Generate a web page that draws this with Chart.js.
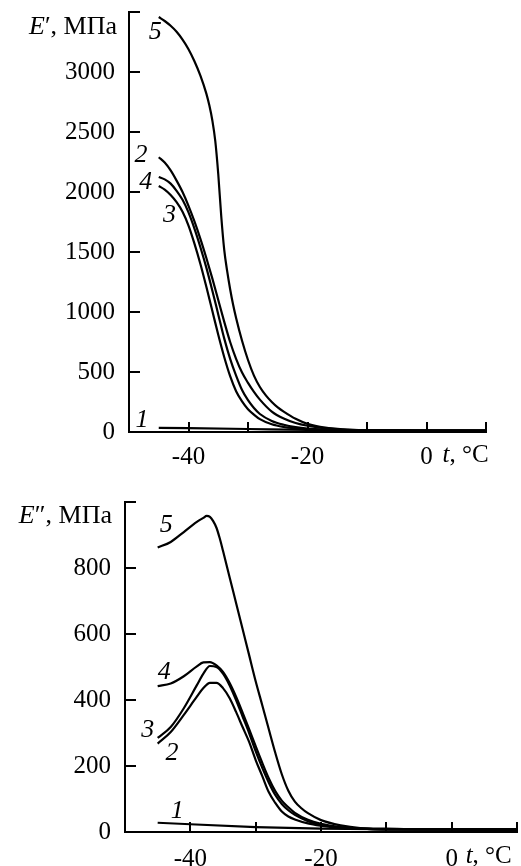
<!DOCTYPE html>
<html>
<head>
<meta charset="utf-8">
<script src="https://cdn.jsdelivr.net/npm/chart.js@4/dist/chart.umd.min.js"></script>
<style>
html,body{margin:0;padding:0;background:#fff;}
#wrap{position:relative;width:521px;height:866px;overflow:hidden;}
canvas{position:absolute;left:0;}
#c1{top:0;}
#c2{top:470px;}
</style>
</head>
<body>
<div id="wrap">
<canvas id="c1" width="521" height="470"></canvas>
<canvas id="c2" width="521" height="396"></canvas>
</div>
<script>
// ---------- DATA ----------
// Top chart: storage modulus E', MPa
const tempsTop5 = [-45,-44,-43,-42,-41,-40,-39,-38,-37,-36.5,-36,-35.5,-35,-34.5,-34,-33.5,-33,-32.5,-32,-31,-30,-29,-28,-27,-26,-25,-24,-22,-20,-17,-14,-10,-5,0,5,10];
const eStor5 = [3458,3425,3385,3335,3270,3190,3090,2970,2820,2722,2598,2425,2150,1800,1520,1340,1190,1060,950,760,600,470,375,305,250,205,170,110,68,36,22,15,13,12,12,12];
const tempsTop = [-45,-44,-43,-42,-41,-40,-39,-38,-37,-36,-35,-34,-33,-32,-31,-30,-29,-28,-26,-24,-22,-20,-17,-14,-10,-5,0,5,10];
const eStor2 = [2290,2245,2180,2095,2000,1885,1755,1610,1450,1280,1100,920,750,610,495,410,335,270,170,112,75,52,30,20,15,12,12,12,12];
const eStor4 = [2125,2105,2070,2010,1935,1830,1695,1540,1370,1180,980,780,610,470,350,265,200,150,92,60,40,28,19,15,12,12,12,12,12];
const eStor3 = [2050,2020,1975,1915,1835,1720,1570,1400,1210,1010,810,625,465,340,255,190,145,107,64,42,30,22,16,13,12,12,12,12,12];
const tempsTop1 = [-45,-30,-20,0,10];
const eStor1 = [35,25,18,12,10];
const yTicksTop = [0,500,1000,1500,2000,2500,3000,3500];
const yLabelsTop = ['0','500','1000','1500','2000','2500','3000',''];

// Bottom chart: loss modulus E'', MPa
const tempsBot5 = [-45,-43,-41,-39,-38,-37.5,-37,-36.5,-36,-35.5,-35,-34,-33,-32,-31,-30,-29,-28,-27,-26,-25,-24,-23,-22,-20,-17,-14,-10,-5,0,5,10];
const eLoss5 = [862,879,909,940,952,958,955,942,922,890,852,773,694,615,536,457,385,312,240,175,125,92,72,57,36,20,12,10,8,8,8,8];
const tempsBot = [-45,-43,-41,-39,-38,-37,-36,-35,-34,-33,-32,-31,-30,-29,-28,-27,-26,-25,-24,-22,-20,-17,-14,-10,-5,0,5,10];
const eLoss4 = [442,450,472,502,514,515,505,485,452,410,362,312,260,210,163,124,95,75,58,37,25,15,10,8,8,8,8,8];
const eLoss3 = [285,318,375,445,480,503,500,480,445,400,350,300,245,195,150,112,85,66,52,33,22,14,10,8,8,8,8,8];
const eLoss2 = [268,303,355,410,436,452,452,436,406,364,318,273,218,170,121,88,62,47,38,26,19,12,10,8,8,8,8,8];
const tempsBot1 = [-45,-30,-20,0,10];
const eLoss1 = [28,15,10,7,5];
const yTicksBot = [0,200,400,600,800,1000];
const yLabelsBot = ['0','200','400','600','800',''];

const xTicks = [-50,-40,-30,-20,-10,0,10];
const xLabels = ['','-40','','-20','','0',''];

// curve number labels (anchored in data coordinates)
const topCurveLabels = [
  {text:'5', t:-45.6, v:3333},
  {text:'2', t:-48.0, v:2308},
  {text:'4', t:-47.2, v:2083},
  {text:'3', t:-43.2, v:1808},
  {text:'1', t:-47.8, v:100}
];
const botCurveLabels = [
  {text:'5', t:-43.7, v:930},
  {text:'4', t:-44.0, v:485},
  {text:'3', t:-46.5, v:309},
  {text:'2', t:-42.8, v:239},
  {text:'1', t:-42.0, v:64}
];

// ---------- STYLE ----------
const FONT = '"Liberation Serif", "Times New Roman", serif';
const FS = 25;
const FT = 26;

function pts(ts, vs){ return ts.map((t,i)=>({x:t, y:vs[i]})); }
function ds(ts, vs){
  return {data: pts(ts, vs), borderColor:'#000', borderWidth:2.2, pointRadius:0,
          fill:false, cubicInterpolationMode:'monotone', clip:false};
}

function decorPlugin(cfg){
  return {
    id:'decor'+cfg.id,
    afterDraw(chart){
      const ctx = chart.ctx, xs = chart.scales.x, ys = chart.scales.y;
      const left = xs.left, bottom = ys.bottom;
      ctx.save();
      ctx.strokeStyle = '#000';
      ctx.lineWidth = 2;
      cfg.yTicks.forEach(v=>{
        if (v===0) return;
        const py = Math.round(ys.getPixelForValue(v));
        ctx.beginPath(); ctx.moveTo(left, py); ctx.lineTo(left+11, py); ctx.stroke();
      });
      xTicks.forEach(v=>{
        if (v===-50) return;
        const px = Math.round(xs.getPixelForValue(v));
        ctx.beginPath(); ctx.moveTo(px, bottom); ctx.lineTo(px, bottom-10); ctx.stroke();
      });
      ctx.fillStyle = '#000';
      ctx.font = 'italic '+FT+'px '+FONT;
      ctx.textAlign = 'center';
      ctx.textBaseline = 'middle';
      cfg.labels.forEach(l=>{
        ctx.fillText(l.text, xs.getPixelForValue(l.t), ys.getPixelForValue(l.v));
      });
      const yTop = ys.getPixelForValue(cfg.yMax);
      const xr = left - cfg.yTitleGap;
      ctx.textBaseline = 'alphabetic';
      ctx.textAlign = 'left';
      const rest = cfg.prime + ', МПа';
      ctx.font = FT+'px '+FONT;
      const wRest = ctx.measureText(rest).width;
      ctx.font = 'italic '+FT+'px '+FONT;
      const wE = ctx.measureText('E').width;
      const x0 = xr - wRest - wE;
      ctx.fillText('E', x0, yTop + cfg.yTitleDy);
      ctx.font = FT+'px '+FONT;
      ctx.fillText(rest, x0 + wE, yTop + cfg.yTitleDy);
      const x0p = xs.getPixelForValue(0) + cfg.xTitleDx;
      ctx.font = 'italic '+FS+'px '+FONT;
      ctx.fillText('t', x0p, bottom + cfg.xTitleDy);
      const wt = ctx.measureText('t').width;
      ctx.font = FS+'px '+FONT;
      ctx.fillText(', °C', x0p + wt, bottom + cfg.xTitleDy);
      ctx.restore();
    }
  };
}

function makeChart(canvasId, datasets, o){
  return new Chart(document.getElementById(canvasId), {
    type:'line',
    data:{datasets},
    options:{
      responsive:false, animation:false, devicePixelRatio:1,
      layout:{padding:{top:o.padTop, right:o.padRight, left:0, bottom:0}},
      plugins:{legend:{display:false}, tooltip:{enabled:false}},
      scales:{
        x:{type:'linear', min:-50, max:10,
           afterBuildTicks(s){ s.ticks = xTicks.map(v=>({value:v})); },
           afterFit(s){ s.height = o.xAxisH; s.paddingLeft = 0; s.paddingRight = 0; },
           grid:{display:true, drawOnChartArea:false, drawTicks:false},
           border:{display:true, color:'#000', width:2},
           ticks:{color:'#000', padding:o.xPad, maxRotation:0, autoSkip:false,
                  font:{family:FONT, size:FS},
                  callback:(v)=>{ const i = xTicks.indexOf(v); return i>=0 ? xLabels[i] : ''; }}
        },
        y:{type:'linear', min:0, max:o.yMax,
           afterBuildTicks(s){ s.ticks = o.yTicks.map(v=>({value:v})); },
           afterFit(s){ s.width = o.yAxisW; s.paddingTop = 0; s.paddingBottom = 0; },
           grid:{display:true, drawOnChartArea:false, drawTicks:false},
           border:{display:true, color:'#000', width:2},
           ticks:{color:'#000', padding:o.yPad, autoSkip:false,
                  font:{family:FONT, size:FS},
                  callback:(v)=>{ const i = o.yTicks.indexOf(v); return i>=0 ? o.yLabels[i] : ''; }}
        }
      }
    },
    plugins:[decorPlugin(o)]
  });
}

makeChart('c1', [
  ds(tempsTop5, eStor5), ds(tempsTop, eStor2), ds(tempsTop, eStor4),
  ds(tempsTop, eStor3), ds(tempsTop1, eStor1)
], {id:1, padTop:12, padRight:35, xAxisH:38, yAxisW:129, xPad:10, yPad:14,
    yMax:3500, yTicks:yTicksTop, yLabels:yLabelsTop, labels:topCurveLabels,
    prime:'\u2032', yTitleGap:12, yTitleDy:22, xTitleDx:16, xTitleDy:30});

makeChart('c2', [
  ds(tempsBot5, eLoss5), ds(tempsBot, eLoss4), ds(tempsBot, eLoss3),
  ds(tempsBot, eLoss2), ds(tempsBot1, eLoss1)
], {id:2, padTop:32, padRight:4, xAxisH:34, yAxisW:125, xPad:12, yPad:14,
    yMax:1000, yTicks:yTicksBot, yLabels:yLabelsBot, labels:botCurveLabels,
    prime:'\u2033', yTitleGap:13, yTitleDy:21, xTitleDx:14, xTitleDy:31});
</script>
</body>
</html>
